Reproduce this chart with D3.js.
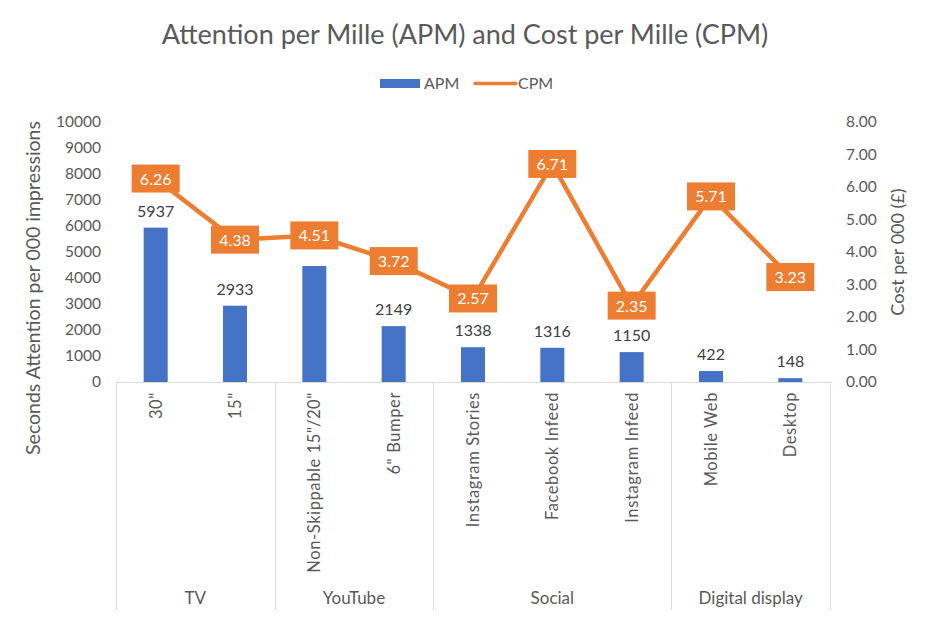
<!DOCTYPE html>
<html><head><meta charset="utf-8">
<script src="https://cdn.jsdelivr.net/npm/d3@7"></script>
<style>body{margin:0;background:#fff;} text{font-family:Lato,"Open Sans",sans-serif;}</style>
</head><body>
<svg id="c" width="930" height="618"></svg>
<script>
const categories = ['30"', '15"', 'Non-Skippable 15"/20"', '6" Bumper', 'Instagram Stories', 'Facebook Infeed', 'Instagram Infeed', 'Mobile Web', 'Desktop'];
const groups = ['TV', 'TV', 'YouTube', 'YouTube', 'Social', 'Social', 'Social', 'Digital display', 'Digital display'];
const apm = [5937, 2933, 4460, 2149, 1338, 1316, 1150, 422, 148];
const apmLabelShown = [true, true, false, true, true, true, true, true, true];
const cpm = [6.26, 4.38, 4.51, 3.72, 2.57, 6.71, 2.35, 5.71, 3.23];
const leftTicks = [0,1000,2000,3000,4000,5000,6000,7000,8000,9000,10000];
const rightTicks = [0,1,2,3,4,5,6,7,8];

const svg = d3.select('#c');
const L = 116, R = 830, T = 122, B = 382, BOTTOM = 610;
const x = d3.scaleBand().domain(categories).range([L, R]).paddingInner(0).paddingOuter(0);
const yL = d3.scaleLinear().domain([0, 10000]).range([B, T]);
const yR = d3.scaleLinear().domain([0, 8]).range([B, T]);
const grey = '#595959', axisCol = '#d9d9d9';
const blue = '#4472C4', orange = '#ED7D31';

// title
svg.append('text').attr('x', 465).attr('y', 44).attr('text-anchor', 'middle')
  .attr('font-size', 27).attr('fill', grey).text('Attention per Mille (APM) and Cost per Mille (CPM)');

// legend
svg.append('rect').attr('x', 380).attr('y', 79).attr('width', 40).attr('height', 9).attr('fill', blue);
svg.append('text').attr('x', 424).attr('y', 89).attr('font-size', 16).attr('fill', grey).text('APM');
svg.append('line').attr('x1', 475).attr('x2', 516).attr('y1', 83.5).attr('y2', 83.5).attr('stroke', orange).attr('stroke-width', 3.5).attr('stroke-linecap', 'round');
svg.append('text').attr('x', 518).attr('y', 89).attr('font-size', 16).attr('fill', grey).text('CPM');

// left axis
const gL = svg.append('g').attr('transform', `translate(${L},0)`)
  .call(d3.axisLeft(yL).tickValues(leftTicks).tickSize(0).tickPadding(15).tickFormat(d3.format('d')));
gL.select('.domain').remove();
gL.selectAll('text').attr('font-size', 15.5).attr('fill', grey).style('font-family', 'Lato');

// right axis
const gR = svg.append('g').attr('transform', `translate(${R},0)`)
  .call(d3.axisRight(yR).tickValues(rightTicks).tickSize(0).tickPadding(16).tickFormat(d3.format('.2f')));
gR.select('.domain').remove();
gR.selectAll('text').attr('font-size', 15.5).attr('fill', grey).style('font-family', 'Lato');

// axis titles
svg.append('text').attr('transform', `translate(40,288) rotate(-90)`).attr('text-anchor', 'middle')
  .attr('font-size', 19.5).attr('fill', grey).text('Seconds Attention per 000 impressions');
svg.append('text').attr('transform', `translate(904,252) rotate(-90)`).attr('text-anchor', 'middle')
  .attr('font-size', 18).attr('fill', grey).text('Cost per 000 (£)');

// category axis line and separators
svg.append('line').attr('x1', L).attr('x2', R).attr('y1', B + 0.5).attr('y2', B + 0.5).attr('stroke', axisCol);
const groupNames = [];
groups.forEach((g, i) => { if (!groupNames.length || groupNames[groupNames.length - 1].name !== g) groupNames.push({name: g, start: i, end: i}); else groupNames[groupNames.length - 1].end = i; });
const seps = [L].concat(groupNames.map(g => x(categories[g.end]) + x.bandwidth()));
svg.selectAll('.sep').data(seps).join('line').attr('class', 'sep')
  .attr('x1', d => Math.round(d) + 0.5).attr('x2', d => Math.round(d) + 0.5).attr('y1', B).attr('y2', BOTTOM).attr('stroke', axisCol);

// category labels
svg.selectAll('.cat').data(categories).join('text').attr('class', 'cat')
  .attr('transform', d => `translate(${x(d) + x.bandwidth() / 2 + 6},${B + 10}) rotate(-90)`)
  .attr('text-anchor', 'end').attr('font-size', 16.5).attr('letter-spacing', 0.6).attr('fill', grey).text(d => d);
svg.selectAll('.grp').data(groupNames).join('text').attr('class', 'grp')
  .attr('x', d => (x(categories[d.start]) + x(categories[d.end]) + x.bandwidth()) / 2).attr('y', 604)
  .attr('text-anchor', 'middle').attr('font-size', 17).attr('fill', grey).text(d => d.name);

// bars
const bw = 24;
svg.selectAll('.bar').data(apm).join('rect').attr('class', 'bar')
  .attr('x', (d, i) => x(categories[i]) + x.bandwidth() / 2 - bw / 2).attr('width', bw)
  .attr('y', d => yL(d)).attr('height', d => B - yL(d)).attr('fill', blue);
svg.selectAll('.blab').data(apm).join('text').attr('class', 'blab')
  .attr('x', (d, i) => x(categories[i]) + x.bandwidth() / 2).attr('y', d => yL(d) - 11)
  .attr('text-anchor', 'middle').attr('font-size', 16).attr('fill', '#404040')
  .text((d, i) => apmLabelShown[i] ? d : '');

// line
const line = d3.line().x((d, i) => x(categories[i]) + x.bandwidth() / 2).y(d => yR(d));
svg.append('path').datum(cpm).attr('d', line).attr('fill', 'none').attr('stroke', orange)
  .attr('stroke-width', 4.5).attr('stroke-linejoin', 'round');

// boxes
const bg = svg.selectAll('.box').data(cpm).join('g').attr('class', 'box')
  .attr('transform', (d, i) => `translate(${x(categories[i]) + x.bandwidth() / 2},${yR(d)})`);
bg.append('rect').attr('x', -24).attr('y', -14).attr('width', 48).attr('height', 28).attr('fill', orange);
bg.append('text').attr('y', 6).attr('text-anchor', 'middle').attr('font-size', 16).attr('fill', '#fff')
  .text(d => d3.format('.2f')(d));
</script>
</body></html>
